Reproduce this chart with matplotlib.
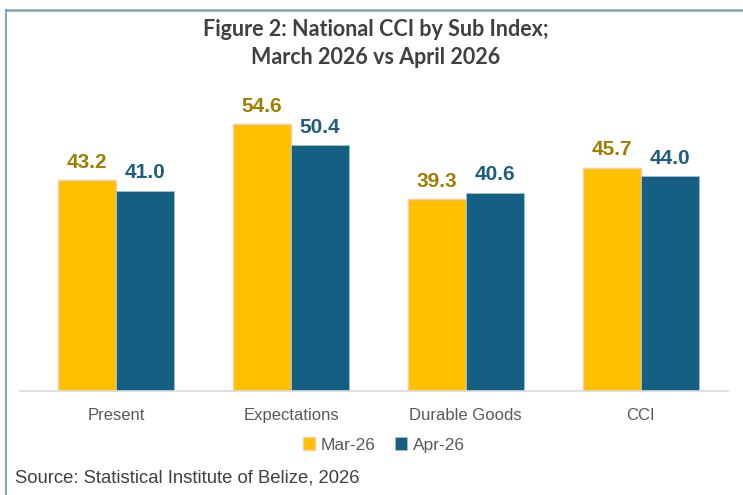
import matplotlib
matplotlib.use("Agg")
import matplotlib.pyplot as plt
from matplotlib.lines import Line2D
import numpy as np

categories = ["Present", "Expectations", "Durable Goods", "CCI"]
mar_values = [43.2, 54.6, 39.3, 45.7]
apr_values = [41.0, 50.4, 40.6, 44.0]
series_names = ["Mar-26", "Apr-26"]

W, H = 743, 495
fig = plt.figure(figsize=(W / 100, H / 100), dpi=100)
fig.patch.set_facecolor("white")

ax = fig.add_axes([20 / W, 1 - 391 / H, (728 - 20) / W, (391 - 98) / H])
x = np.arange(len(categories))
bw = 0.332
mar_col = "#FFC000"
apr_col = "#156082"
b1 = ax.bar(x - bw / 2, mar_values, bw, color=mar_col, edgecolor="#F8CBAD", linewidth=1, label=series_names[0])
b2 = ax.bar(x + bw / 2, apr_values, bw, color=apr_col, edgecolor="#9DC3D6", linewidth=0.6, label=series_names[1])

for xi, v in zip(x, mar_values):
    ax.annotate(f"{v:.1f}", (xi - bw / 2, v), xytext=(0, 6), textcoords="offset points",
                ha="center", va="bottom", fontsize=15, fontweight="bold",
                color="#A07F00", family="Liberation Sans")
for xi, v in zip(x, apr_values):
    ax.annotate(f"{v:.1f}", (xi + bw / 2, v), xytext=(0, 6), textcoords="offset points",
                ha="center", va="bottom", fontsize=15, fontweight="bold",
                color="#1F5E80", family="Liberation Sans")

ax.set_xlim(-0.55, 3.5)
ax.set_ylim(0, 60)
ax.set_yticks([])
for s in ["top", "right", "left"]:
    ax.spines[s].set_visible(False)
ax.spines["bottom"].set_color("#D9D9D9")
ax.spines["bottom"].set_linewidth(1.2)
ax.set_xticks(x)
ax.set_xticklabels(categories, family="Liberation Sans", fontsize=12, color="#595959")
ax.tick_params(axis="x", length=0, pad=12)

fig.legend(handles=[b1, b2], labels=series_names, loc="center", bbox_to_anchor=(384 / W, 1 - 445 / H),
           ncol=2, frameon=False, handlelength=0.7, handleheight=0.7,
           handletextpad=0.35, columnspacing=1.1, prop={"family": "Liberation Sans", "size": 12.5},
           labelcolor="#595959")

fig.text(376 / W, 1 - 30 / H, "Figure 2: National CCI by Sub Index;", ha="center", va="center",
         fontsize=15.5, fontweight="bold", family="Lato", color="#404040")
fig.text(376 / W, 1 - 57 / H, "March 2026 vs April 2026", ha="center", va="center",
         fontsize=15.5, fontweight="bold", family="Lato", color="#404040")

fig.text(15 / W, 1 - 478 / H, "Source: Statistical Institute of Belize, 2026", ha="left", va="center",
         fontsize=13.3, family="Liberation Sans", color="#404040")

fig.add_artist(Line2D([6 / W, 1], [1 - 10 / H, 1 - 10 / H], transform=fig.transFigure,
                      color="#7FA7B8", linewidth=1.8))
fig.add_artist(Line2D([6.5 / W, 6.5 / W], [0, 1 - 10 / H], transform=fig.transFigure,
                      color="#6E98AB", linewidth=1.2))

fig.savefig("out.png", dpi=100, facecolor="white")
